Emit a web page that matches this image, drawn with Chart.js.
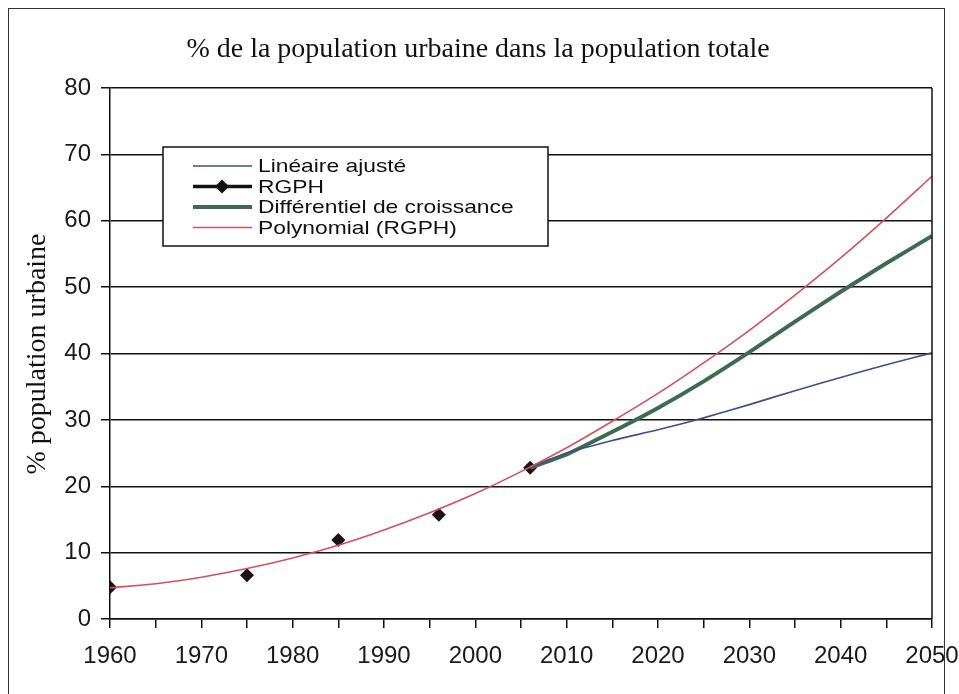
<!DOCTYPE html>
<html>
<head>
<meta charset="utf-8">
<script src="https://cdn.jsdelivr.net/npm/chart.js@4/dist/chart.umd.min.js"></script>
<style>
  html, body { margin: 0; padding: 0; background: #fff; overflow: hidden; }
  #wrap { position: relative; width: 959px; height: 694px; overflow: hidden; }
  #frame { position: absolute; left: 8px; top: 8px; width: 937px; height: 700px; border: 1.5px solid #333; box-sizing: border-box; pointer-events: none; }
</style>
</head>
<body>
<div id="wrap">
  <canvas id="myChart"></canvas>
  <div id="frame"></div>
</div>
<script>
// Données
const censusYears = [1960, 1975, 1985, 1996, 2006];
const rgph = [4.8, 6.6, 11.9, 15.7, 22.8];

const projYears = [2006, 2010, 2015, 2020, 2025, 2030, 2035, 2040, 2045, 2050];
const lineaire = [22.8, 25.0, 26.9, 28.5, 30.3, 32.3, 34.4, 36.4, 38.3, 40.1];
const differentiel = [22.8, 24.8, 28.2, 31.8, 35.8, 40.2, 44.8, 49.3, 53.6, 57.7];

const polyYears = [1960, 1965, 1970, 1975, 1980, 1985, 1990, 1995, 2000, 2005,
                   2010, 2015, 2020, 2025, 2030, 2035, 2040, 2045, 2050];
const polynomial = [4.7, 5.3, 6.3, 7.6, 9.2, 11.1, 13.4, 16.0, 18.9, 22.2,
                    25.8, 29.8, 34.0, 38.6, 43.5, 48.8, 54.4, 60.4, 66.7];

const xTicks = [1960, 1970, 1980, 1990, 2000, 2010, 2020, 2030, 2040, 2050];
const yTicks = [0, 10, 20, 30, 40, 50, 60, 70, 80];

const chartTitle = '% de la population urbaine dans la population totale';
const yTitle = '% population urbaine';

const toXY = (xs, ys) => xs.map((x, i) => ({ x: x, y: ys[i] }));

// titre, titre d'axe, légende dans la zone de tracé, bord droit
const decor = {
    id: 'decor',
    afterDraw(chart) {
        const ctx = chart.ctx;
        const a = chart.chartArea;
        ctx.save();

        ctx.strokeStyle = '#111';
        ctx.lineWidth = 1.5;
        ctx.beginPath();
        ctx.moveTo(a.right, a.top);
        ctx.lineTo(a.right, a.bottom);
        ctx.stroke();

        ctx.fillStyle = '#111';
        ctx.font = '28px "Liberation Serif"';
        ctx.textAlign = 'center';
        ctx.textBaseline = 'middle';
        ctx.fillText(chartTitle, 478, 50);

        ctx.translate(38, 354);
        ctx.rotate(-Math.PI / 2);
        ctx.fillText(yTitle, 0, 0);
        ctx.setTransform(1, 0, 0, 1, 0, 0);

        // légende
        const bx = 163, by = 147, bw = 385, bh = 99;
        ctx.fillStyle = '#fff';
        ctx.fillRect(bx, by, bw, bh);
        ctx.lineWidth = 1.5;
        ctx.strokeStyle = '#111';
        ctx.strokeRect(bx, by, bw, bh);

        const items = [
            { label: 'Linéaire ajusté', color: '#3d4f8c', width: 1.5 },
            { label: 'RGPH', color: '#111', width: 3.5, marker: true },
            { label: 'Différentiel de croissance', color: '#3f6a52', width: 4 },
            { label: 'Polynomial (RGPH)', color: '#d4505a', width: 1.5 }
        ];
        ctx.font = '19px "Liberation Sans"';
        ctx.textAlign = 'left';
        items.forEach((it, i) => {
            const y = 166 + i * 20.5;
            ctx.strokeStyle = it.color;
            ctx.lineWidth = it.width;
            ctx.beginPath();
            ctx.moveTo(193, y);
            ctx.lineTo(252, y);
            ctx.stroke();
            if (it.marker) {
                ctx.fillStyle = '#111';
                ctx.beginPath();
                ctx.moveTo(222, y - 7);
                ctx.lineTo(229, y);
                ctx.lineTo(222, y + 7);
                ctx.lineTo(215, y);
                ctx.closePath();
                ctx.fill();
            }
            ctx.fillStyle = '#111';
            ctx.save();
            ctx.translate(258, y + 1);
            ctx.scale(1.2, 1);
            ctx.fillText(it.label, 0, 0);
            ctx.restore();
        });
        ctx.restore();
    }
};

const ctx = document.getElementById('myChart').getContext('2d');
new Chart(ctx, {
    type: 'line',
    data: {
        datasets: [
            {
                label: 'Polynomial (RGPH)',
                data: toXY(polyYears, polynomial),
                borderColor: '#d4505a',
                borderWidth: 1.6,
                pointRadius: 0,
                tension: 0.3,
                order: 0
            },
            {
                label: 'Linéaire ajusté',
                data: toXY(projYears, lineaire),
                borderColor: '#3d4f8c',
                borderWidth: 1.6,
                pointRadius: 0,
                tension: 0.2,
                order: 1
            },
            {
                label: 'Différentiel de croissance',
                data: toXY(projYears, differentiel),
                borderColor: '#3f6a52',
                borderWidth: 4,
                pointRadius: 0,
                tension: 0.15,
                order: 2
            },
            {
                label: 'RGPH',
                data: toXY(censusYears, rgph),
                showLine: false,
                pointStyle: 'rectRot',
                pointRadius: 7,
                pointBackgroundColor: '#1c1212',
                pointBorderColor: '#1c1212',
                pointBorderWidth: 0,
                order: 3
            }
        ]
    },
    options: {
        responsive: true,
        maintainAspectRatio: false,
        animation: false,
        layout: { padding: { left: 0, top: 88, right: 27, bottom: 0 } },
        plugins: {
            legend: { display: false },
            title: { display: false },
            tooltip: { enabled: false }
        },
        scales: {
            x: {
                type: 'linear',
                min: 1960,
                max: 2050,
                afterFit: s => { s.height = 75; s.paddingLeft = 0; s.paddingRight = 0; },
                afterBuildTicks: s => {
                    const t = [];
                    for (let v = 1960; v <= 2050; v += 5) t.push({ value: v });
                    s.ticks = t;
                },
                ticks: {
                    autoSkip: false,
                    maxRotation: 0,
                    padding: 14,
                    color: '#1a1a1a',
                    font: { family: 'Liberation Sans', size: 24 },
                    callback: v => xTicks.includes(v) ? String(v) : ''
                },
                grid: { drawOnChartArea: false, drawTicks: true, tickLength: 9, color: '#111', lineWidth: 1.5 },
                border: { color: '#111', width: 1.5 }
            },
            y: {
                min: 0,
                max: 80,
                afterFit: s => { s.width = 110; s.paddingTop = 0; s.paddingBottom = 0; },
                afterBuildTicks: s => { s.ticks = yTicks.map(v => ({ value: v })); },
                ticks: {
                    padding: 10,
                    color: '#1a1a1a',
                    font: { family: 'Liberation Sans', size: 24 }
                },
                grid: { color: '#111', lineWidth: 1.5, tickLength: 9 },
                border: { color: '#111', width: 1.5 }
            }
        }
    },
    plugins: [decor]
});
</script>
</body>
</html>
